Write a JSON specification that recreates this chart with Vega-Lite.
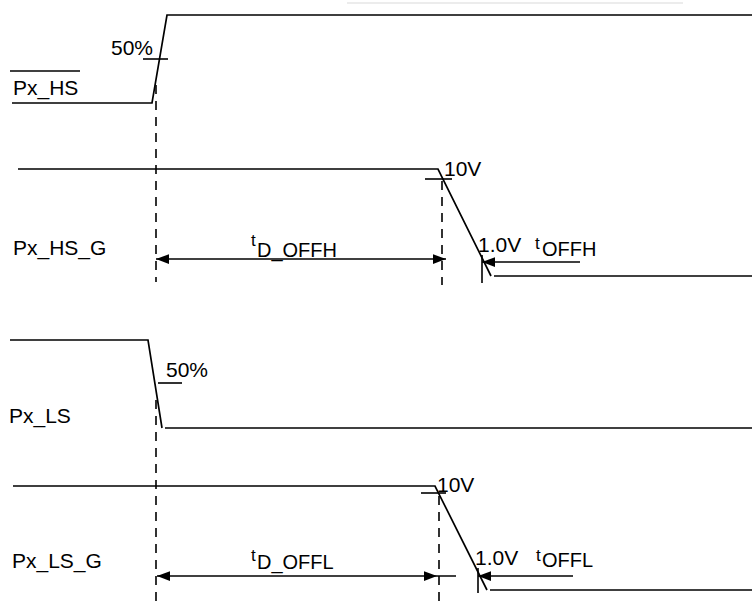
{
  "$schema": "https://vega.github.io/schema/vega-lite/v6.json",
  "width": 752,
  "height": 601,
  "autosize": {"type": "none"},
  "padding": 0,
  "background": "white",
  "config": {"view": {"stroke": null}, "font": "Liberation Sans"},
  "datasets": {
    "waves": [
      {"id": "HS", "seq": 1, "x": 12, "y": 103},
      {"id": "HS", "seq": 2, "x": 152, "y": 103},
      {"id": "HS", "seq": 3, "x": 167, "y": 15},
      {"id": "HS", "seq": 4, "x": 753, "y": 15},
      {"id": "HSG", "seq": 1, "x": 18, "y": 169},
      {"id": "HSG", "seq": 2, "x": 438, "y": 169},
      {"id": "HSG", "seq": 3, "x": 491, "y": 276},
      {"id": "HSGlow", "seq": 1, "x": 494, "y": 276},
      {"id": "HSGlow", "seq": 2, "x": 753, "y": 276},
      {"id": "LS", "seq": 1, "x": 10, "y": 340},
      {"id": "LS", "seq": 2, "x": 148, "y": 340},
      {"id": "LS", "seq": 3, "x": 162, "y": 428},
      {"id": "LSlow", "seq": 1, "x": 165, "y": 428},
      {"id": "LSlow", "seq": 2, "x": 753, "y": 428},
      {"id": "LSG", "seq": 1, "x": 13, "y": 486},
      {"id": "LSG", "seq": 2, "x": 435, "y": 486},
      {"id": "LSG", "seq": 3, "x": 487, "y": 590},
      {"id": "LSGlow", "seq": 1, "x": 490, "y": 590},
      {"id": "LSGlow", "seq": 2, "x": 753, "y": 590}
    ],
    "segments": [
      {"name": "HS 50% tick", "x": 143, "y": 59, "x2": 168, "y2": 59},
      {"name": "HS overline", "x": 10, "y": 71, "x2": 80, "y2": 71},
      {"name": "HSG 10V tick", "x": 425, "y": 179, "x2": 452, "y2": 179},
      {"name": "HSG 1.0V tick", "x": 482, "y": 255, "x2": 482, "y2": 283},
      {"name": "tOFFH", "x": 482, "y": 262, "x2": 580, "y2": 262},
      {"name": "tD_OFFH", "x": 156, "y": 259, "x2": 446, "y2": 259},
      {"name": "LS 50% tick", "x": 158, "y": 383, "x2": 182, "y2": 383},
      {"name": "LSG 10V tick", "x": 421, "y": 493, "x2": 446, "y2": 493},
      {"name": "LSG 1.0V tick", "x": 478, "y": 568, "x2": 478, "y2": 593},
      {"name": "tOFFL", "x": 478, "y": 576, "x2": 573, "y2": 576},
      {"name": "tD_OFFL", "x": 157, "y": 576, "x2": 456, "y2": 576}
    ],
    "dashed": [
      {"x": 156, "y": 85, "x2": 156, "y2": 282},
      {"x": 442, "y": 181, "x2": 442, "y2": 285},
      {"x": 156, "y": 400, "x2": 156, "y2": 601},
      {"x": 439, "y": 496, "x2": 439, "y2": 601}
    ],
    "faint": [
      {"x": 347, "y": 3, "x2": 683, "y2": 3}
    ],
    "arrowsLeft": [
      {"x": 156, "y": 259},
      {"x": 482, "y": 262},
      {"x": 157, "y": 576},
      {"x": 478, "y": 576}
    ],
    "arrowsRight": [
      {"x": 446, "y": 259},
      {"x": 437, "y": 576}
    ],
    "labels": [
      {"label": "50%", "x": 111, "y": 55},
      {"label": "Px_HS", "x": 13, "y": 95},
      {"label": "Px_HS_G", "x": 13, "y": 255},
      {"label": "10V", "x": 444, "y": 176},
      {"label": "1.0V", "x": 478, "y": 252},
      {"label": "Px_LS", "x": 9, "y": 423},
      {"label": "50%", "x": 166, "y": 377},
      {"label": "Px_LS_G", "x": 12, "y": 568},
      {"label": "10V", "x": 437, "y": 492},
      {"label": "1.0V", "x": 475, "y": 565}
    ],
    "tLetters": [
      {"label": "t", "x": 251, "y": 246},
      {"label": "t", "x": 535, "y": 249},
      {"label": "t", "x": 251, "y": 561},
      {"label": "t", "x": 536, "y": 561}
    ],
    "subscripts": [
      {"label": "D_OFFH", "x": 257, "y": 257},
      {"label": "OFFH", "x": 542, "y": 256},
      {"label": "D_OFFL", "x": 257, "y": 569},
      {"label": "OFFL", "x": 542, "y": 567}
    ]
  },
  "encoding": {
    "x": {"field": "x", "type": "quantitative", "axis": null,
          "scale": {"domain": [0, 752], "nice": false, "zero": false}},
    "y": {"field": "y", "type": "quantitative", "axis": null,
          "scale": {"domain": [0, 601], "nice": false, "zero": false, "reverse": true}}
  },
  "layer": [
    {
      "data": {"name": "faint"},
      "mark": {"type": "rule", "color": "#e6e6e6", "strokeWidth": 1.5},
      "encoding": {"x2": {"field": "x2"}, "y2": {"field": "y2"}}
    },
    {
      "data": {"name": "waves"},
      "mark": {"type": "line", "color": "black", "strokeWidth": 1.7, "strokeJoin": "miter", "clip": false},
      "encoding": {
        "detail": {"field": "id"},
        "order": {"field": "seq", "type": "quantitative"}
      }
    },
    {
      "data": {"name": "segments"},
      "mark": {"type": "rule", "color": "black", "strokeWidth": 1.6},
      "encoding": {"x2": {"field": "x2"}, "y2": {"field": "y2"}}
    },
    {
      "data": {"name": "dashed"},
      "mark": {"type": "rule", "color": "black", "strokeWidth": 1.6, "strokeDash": [9, 7]},
      "encoding": {"x2": {"field": "x2"}, "y2": {"field": "y2"}}
    },
    {
      "data": {"name": "arrowsLeft"},
      "mark": {"type": "point", "shape": "M0,0L2,-0.75L2,0.75Z", "filled": true, "color": "black", "opacity": 1, "size": 169, "strokeWidth": 0}
    },
    {
      "data": {"name": "arrowsRight"},
      "mark": {"type": "point", "shape": "M0,0L-2,-0.75L-2,0.75Z", "filled": true, "color": "black", "opacity": 1, "size": 169, "strokeWidth": 0}
    },
    {
      "data": {"name": "labels"},
      "mark": {"type": "text", "align": "left", "baseline": "alphabetic", "fontSize": 21, "color": "black"},
      "encoding": {"text": {"field": "label"}}
    },
    {
      "data": {"name": "tLetters"},
      "mark": {"type": "text", "align": "left", "baseline": "alphabetic", "fontSize": 17, "color": "black"},
      "encoding": {"text": {"field": "label"}}
    },
    {
      "data": {"name": "subscripts"},
      "mark": {"type": "text", "align": "left", "baseline": "alphabetic", "fontSize": 20, "color": "black"},
      "encoding": {"text": {"field": "label"}}
    }
  ]
}
